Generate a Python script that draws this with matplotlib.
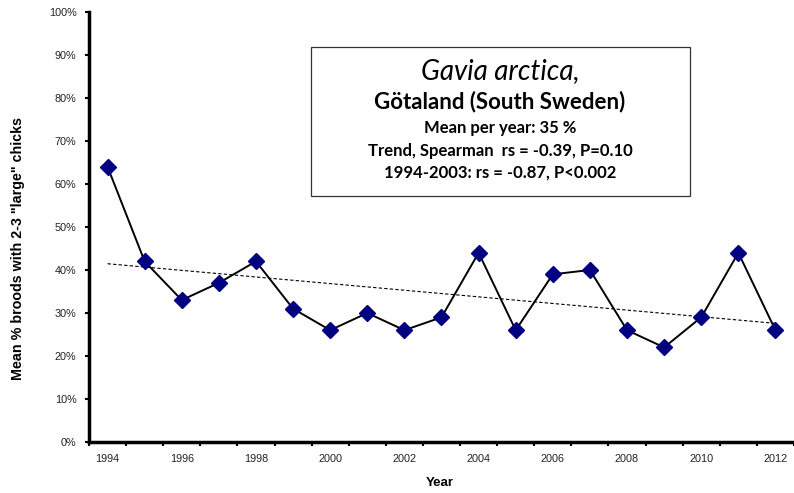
import numpy as np
import matplotlib
matplotlib.use("Agg")
import matplotlib.pyplot as plt
from matplotlib.patches import Rectangle
from matplotlib.ticker import FixedLocator, NullFormatter, FuncFormatter

years = [1994, 1995, 1996, 1997, 1998, 1999, 2000, 2001, 2002, 2003,
         2004, 2005, 2006, 2007, 2008, 2009, 2010, 2011, 2012]
pct_large = [64, 42, 33, 37, 42, 31, 26, 30, 26, 29,
             44, 26, 39, 40, 26, 22, 29, 44, 26]
year_labels = [1994, 1996, 1998, 2000, 2002, 2004, 2006, 2008, 2010, 2012]
box_lines = ["Gavia arctica,",
             "Götaland (South Sweden)",
             "Mean per year: 35 %",
             "Trend, Spearman  rs = -0.39, P=0.10",
             "1994-2003: rs = -0.87, P<0.002"]

tick_font = "Liberation Sans"
box_font = "Lato"

W, H = 794, 493
fig = plt.figure(figsize=(W / 100, H / 100), dpi=100)
ax = fig.add_axes([89 / W, 1 - 442 / H, 1 - 89 / W, (442 - 12) / H])

x = np.array(years, dtype=float)
y = np.array(pct_large, dtype=float)

# linear trend line
k, b = np.polyfit(x, y, 1)
ax.plot(x, k * x + b, color="black", lw=0.8, ls=(0, (3, 2)), zorder=2)

ax.plot(x, y, color="black", lw=1.4, zorder=3)
ax.plot(x, y, ls="none", marker="D", ms=8, mfc="#000080", mec="#000080", zorder=4)

ax.set_xlim(years[0] - 0.5, years[-1] + 0.5)
ax.set_ylim(0, 100)

# category-style x axis: ticks at boundaries, labels centred on years
ax.xaxis.set_major_locator(FixedLocator(np.arange(years[0] - 0.5, years[-1] + 1.0, 1.0)))
ax.xaxis.set_major_formatter(NullFormatter())
ax.xaxis.set_minor_locator(FixedLocator(year_labels))
ax.xaxis.set_minor_formatter(FuncFormatter(lambda v, p: f"{int(round(v))}"))
ax.tick_params(axis="x", which="major", direction="out", length=3, width=1.5)
ax.tick_params(axis="x", which="minor", length=0, pad=9, labelsize=7.8)

ax.set_yticks(np.arange(0, 101, 10))
ax.yaxis.set_major_formatter(FuncFormatter(lambda v, p: f"{int(v)}%"))
ax.tick_params(axis="y", direction="out", length=3, width=1.5, labelsize=7.8, pad=6)

for lab in ax.get_xticklabels(minor=True) + ax.get_yticklabels():
    lab.set_fontfamily(tick_font)
    lab.set_color("#222222")

for s in ["top", "right"]:
    ax.spines[s].set_visible(False)
for s in ["left", "bottom"]:
    ax.spines[s].set_linewidth(2.5)

fig.text(440 / W, 1 - 483 / H, "Year", ha="center", va="center",
         fontfamily=tick_font, fontweight="bold", fontsize=9.5)
fig.text(18 / W, 1 - 248 / H, 'Mean % broods with 2-3 "large" chicks', rotation=90,
         ha="center", va="center", fontfamily=tick_font, fontweight="bold", fontsize=10.3)

# annotation box
fig.patches.append(Rectangle((311 / W, 1 - 196 / H), (690 - 311) / W, (196 - 47) / H,
                             transform=fig.transFigure, fill=True, fc="white",
                             ec="#333333", lw=0.9, zorder=5))
cx = 500 / W
fig.text(cx, 1 - 71 / H, box_lines[0], ha="center", va="center", fontfamily=box_font,
         fontstyle="italic", fontsize=20, zorder=6)
fig.text(cx, 1 - 102 / H, box_lines[1], ha="center", va="center", fontfamily=box_font,
         fontweight="bold", fontsize=16, zorder=6)
for ypx, s in zip([128, 151, 173], box_lines[2:]):
    fig.text(cx, 1 - ypx / H, s, ha="center", va="center", fontfamily=box_font,
             fontweight="bold", fontsize=12, zorder=6)

fig.savefig("out.png", dpi=100)
